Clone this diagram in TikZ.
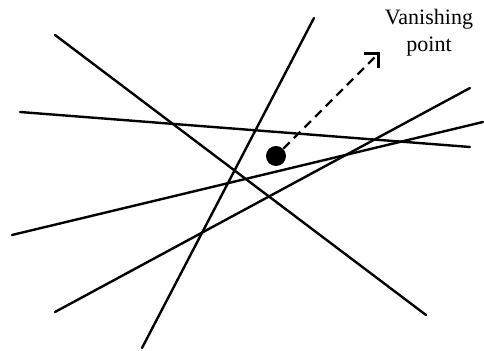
\documentclass[tikz,border=0pt]{standalone}
\usepackage{fontspec}
\setmainfont{Liberation Serif}
\usetikzlibrary{arrows.meta, positioning}

\begin{document}
\begin{tikzpicture}[
    x=0.5pt, y=-0.5pt,
    vpline/.style={line width=1.2pt, line cap=round},
    vpdot/.style={circle, fill=black, inner sep=0pt, minimum size=10pt},
    vparrow/.style={-{Straight Barb[angle=90:7pt, line width=1.6pt]}, line width=1.1pt, dash pattern=on 4.5pt off 3pt},
    vplabel/.style={align=center, inner sep=0pt, font=\fontsize{11}{13.5}\selectfont}
]
\useasboundingbox (0,0) rectangle (484,351);

% --- End points of the lines ---
\coordinate (a1) at (55,35);   \coordinate (a2) at (426,315);
\coordinate (b1) at (20,112);  \coordinate (b2) at (470,147);
\coordinate (c1) at (314,18);  \coordinate (c2) at (142,348);
\coordinate (d1) at (12,235);  \coordinate (d2) at (483,122);
\coordinate (e1) at (55,312);  \coordinate (e2) at (470,88);

% --- Lines ---
\draw[vpline] (a1) -- (a2);
\draw[vpline] (b1) -- (b2);
\draw[vpline] (c1) -- (c2);
\draw[vpline] (d1) -- (d2);
\draw[vpline] (e1) -- (e2);

% --- Dot, arrow and label ---
\node[vpdot] (vp) at (276,156) {};
\coordinate (tip) at (380,52);
\draw[vparrow] (vp) -- (tip);

\node[vplabel] (label) at (429,33) {Vanishing\\point};

\end{tikzpicture}
\end{document}
